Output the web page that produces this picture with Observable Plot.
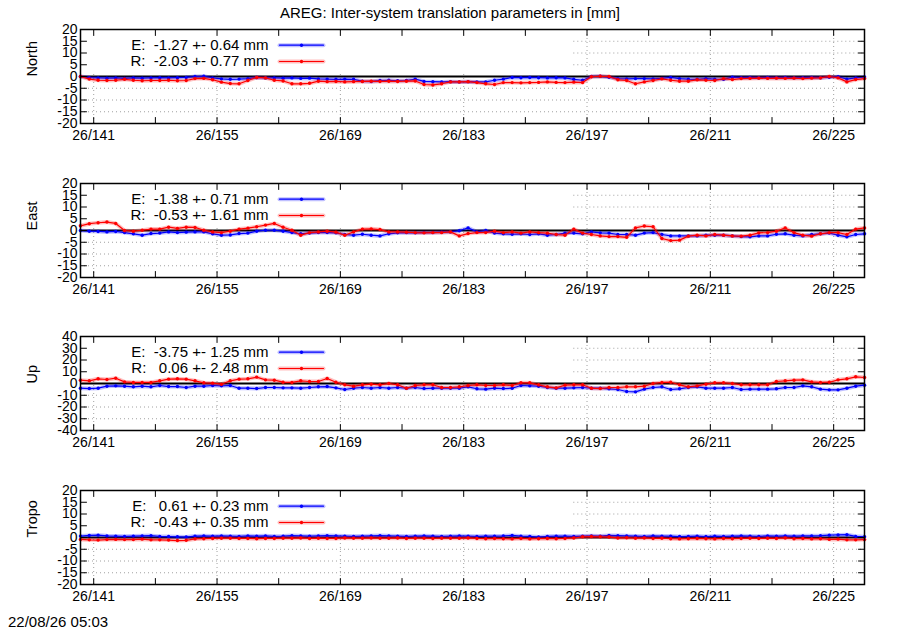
<!DOCTYPE html>
<html>
<head>
<meta charset="utf-8">
<script src="https://cdn.jsdelivr.net/npm/d3@7"></script>
<script src="https://cdn.jsdelivr.net/npm/@observablehq/plot@0.6"></script>
<style>
  body { margin: 0; background: #fff; }
  #chart { position: relative; width: 900px; height: 630px; background: #fff;
           font-family: "Liberation Sans", Arial, sans-serif; color: #000; }
  #chart .title { position: absolute; top: 5px; left: 0; width: 900px; text-align: center; font-size: 15px; line-height: 15px; }
  #chart .stamp { position: absolute; left: 8px; top: 614px; font-size: 15px; line-height: 15px; }
  #chart .panel { position: absolute; left: 0; }
</style>
</head>
<body>
<div id="chart"></div>
<script>
// daily solutions, day-of-year 139 .. 228 (noon epochs)
const days = d3.range(90).map(i => 139.5 + i);

const panelNames = ["North", "East", "Up", "Tropo"];
const yTicks20 = [-20, -15, -10, -5, 0, 5, 10, 15, 20];
const yTicks40 = [-40, -30, -20, -10, 0, 10, 20, 30, 40];
const xTicks = [141, 155, 169, 183, 197, 211, 225];
const xMinor = [148, 162, 176, 190, 204, 218];

// legend statistics: mean +- sigma [mm]
const statsE = ["-1.27 +- 0.64", "-1.38 +- 0.71", "-3.75 +- 1.25", " 0.61 +- 0.23"];
const statsR = ["-2.03 +- 0.77", "-0.53 +- 1.61", " 0.06 +- 2.48", "-0.43 +- 0.35"];

// E (blue) and R (red) series, one value per day
const northE = [0.0,-0.5,-0.6,-0.7,-0.6,-0.8,-0.6,-0.7,-0.6,-0.5,-0.6,-0.5,-0.4,0.0,0.1,-0.6,-1.0,-1.2,-1.1,-0.9,
  -0.4,-0.6,-0.6,-0.7,-0.6,-0.8,-0.7,-1.0,-1.1,-1.2,-1.1,-1.2,-2.0,-2.1,-1.7,-1.6,-1.8,-1.7,-1.1,-2.1,
  -2.2,-2.3,-2.2,-2.3,-2.2,-2.3,-2.3,-1.6,-1.1,-0.4,-0.5,-0.4,-0.5,-0.6,-0.5,-0.6,-1.2,-1.6,0.0,0.1,
  -0.3,-0.9,-1.0,-0.9,-0.9,-1.0,-0.8,-0.4,-0.9,-1.1,-1.2,-0.9,-1.1,-1.2,-0.3,-0.5,-0.4,-0.5,-0.4,-0.5,
  -0.4,-0.6,-0.5,-0.4,-0.5,-0.3,-0.1,-1.1,-0.6,-0.2];
const northR = [0.0,-1.1,-1.6,-1.7,-1.6,-1.2,-1.6,-1.8,-1.7,-1.7,-1.6,-1.8,-1.7,-0.9,-0.8,-1.4,-2.4,-3.0,-3.1,-1.7,
  -0.4,-0.6,-1.6,-1.9,-3.1,-3.1,-2.9,-2.0,-2.2,-2.1,-2.3,-2.2,-2.1,-2.0,-2.1,-2.0,-2.1,-2.0,-1.9,-3.4,
  -3.6,-3.1,-2.3,-2.3,-2.2,-2.6,-3.1,-3.4,-2.6,-2.6,-2.7,-2.6,-2.5,-2.3,-2.5,-2.6,-2.4,-2.6,-0.1,0.1,
  0.0,-1.4,-1.7,-3.1,-2.3,-1.7,-1.0,-1.6,-2.0,-2.0,-1.4,-1.6,-1.7,-0.9,-1.3,-0.9,-0.8,-0.7,-0.8,-0.7,
  -0.8,-0.7,-0.9,-0.7,-0.6,0.0,-0.6,-2.3,-1.3,-0.9];
const eastE = [0.0,-0.3,-0.4,-0.6,-0.4,-0.9,-1.4,-2.0,-1.3,-1.1,-0.6,-0.9,-0.7,-0.6,-0.6,-1.4,-2.0,-1.9,-1.3,-1.1,
  -0.3,0.1,0.1,-0.3,-0.9,-1.4,-1.1,-0.9,-0.9,-1.0,-1.7,-2.0,-1.6,-2.0,-2.3,-1.4,-1.0,-0.9,-1.0,-0.9,
  -0.9,-0.7,-0.6,-0.1,1.1,-0.6,0.0,-1.1,-1.4,-1.6,-1.4,-1.7,-1.4,-2.0,-1.7,-1.1,-1.1,-1.4,-0.6,-1.0,
  -1.1,-1.7,-1.7,-2.0,-1.1,-0.9,-1.7,-2.3,-2.3,-2.3,-2.3,-2.0,-2.0,-2.0,-2.3,-2.6,-2.7,-2.3,-2.3,-1.6,
  -1.4,-2.0,-2.3,-1.7,-1.4,-1.1,-2.0,-2.7,-1.7,-1.4];
const eastR = [2.0,2.9,3.3,3.6,3.0,0.0,-0.3,0.1,0.6,0.6,1.4,0.9,1.4,1.3,0.1,-0.6,-0.9,-0.3,0.6,1.0,
  1.6,2.3,3.0,1.4,0.1,-2.0,-0.9,-0.6,-0.3,-0.7,-2.0,-0.6,0.6,0.7,0.4,-0.6,-0.6,-0.7,-0.9,-1.0,
  -0.9,-0.9,-0.6,-2.3,-1.3,-0.9,-0.9,-0.3,-0.9,-0.6,-1.1,-0.6,-0.9,-1.1,-1.7,-2.0,0.6,-1.1,-1.7,-2.3,
  -2.6,-2.6,-2.9,1.1,1.9,1.6,-3.4,-4.3,-4.1,-2.4,-2.0,-2.3,-1.7,-2.0,-2.3,-2.4,-2.0,-1.0,-0.9,-0.3,
  1.1,-0.9,-2.0,-2.4,-1.4,-0.9,-0.9,-1.7,0.6,1.1];
const upE = [-4.0,-4.3,-4.0,-2.3,-2.0,-2.3,-2.8,-2.3,-2.8,-1.7,-2.6,-2.6,-3.4,-2.3,-2.3,-1.7,-2.0,-1.7,-4.0,-4.0,
  -4.3,-3.4,-3.4,-3.7,-3.7,-4.0,-3.4,-2.8,-2.6,-3.7,-5.1,-4.0,-3.4,-4.0,-3.4,-4.0,-3.4,-4.0,-3.4,-4.3,
  -4.0,-4.0,-4.0,-4.0,-2.8,-4.5,-4.8,-4.0,-4.3,-4.0,-1.7,-2.0,-2.3,-3.4,-4.0,-4.0,-3.7,-3.4,-4.0,-4.0,
  -4.5,-5.1,-6.8,-7.1,-4.8,-3.4,-2.8,-5.1,-4.5,-3.4,-2.8,-4.0,-4.0,-4.0,-3.4,-5.1,-4.8,-4.8,-4.8,-4.5,
  -3.4,-3.4,-2.0,-2.8,-4.8,-5.4,-5.4,-4.0,-2.3,-1.4];
const upR = [2.8,2.3,4.0,3.4,4.5,1.4,0.9,0.9,0.9,2.3,3.7,4.0,3.7,2.3,0.6,0.3,-0.6,2.3,3.7,4.0,
  5.4,3.1,2.8,1.1,0.9,2.3,1.7,1.7,4.3,1.1,-1.1,-2.3,-1.1,-0.6,-1.1,0.0,-1.1,-4.0,-1.7,-1.1,
  -1.1,-3.4,-3.4,-2.8,-1.7,-1.1,-1.7,-1.7,-1.1,-1.7,0.6,0.6,-1.1,-2.8,-3.7,-1.4,-1.1,-1.1,-4.0,-4.3,
  -3.4,-3.4,-2.8,-2.8,-2.3,0.0,0.9,1.1,-1.1,-2.8,-2.0,-0.6,0.6,0.6,0.0,-1.1,-1.1,-1.1,-1.1,1.7,
  2.3,2.8,3.1,1.4,0.9,1.1,3.1,4.0,5.7,5.1];
const tropoE = [0.6,0.9,1.0,0.7,0.6,0.5,0.6,0.7,0.8,0.5,0.4,0.3,0.2,0.6,0.7,0.6,0.7,0.6,0.5,0.7,
  0.6,0.7,0.5,0.6,0.8,0.7,0.6,0.7,0.8,0.7,0.6,0.5,0.6,0.7,0.8,0.7,0.6,0.5,0.6,0.7,
  0.6,0.5,0.6,0.7,0.6,0.5,0.6,0.6,0.7,0.9,0.6,0.5,0.2,0.5,0.6,0.6,0.5,0.6,0.7,0.6,
  0.9,0.8,0.7,0.6,0.5,0.7,0.6,0.6,0.4,0.5,0.6,0.4,0.6,0.5,0.6,0.7,0.6,0.5,0.7,0.6,
  0.7,0.6,0.7,0.7,0.8,1.0,1.1,1.2,0.5,0.3];
const tropoR = [-0.8,-1.0,-1.1,-0.9,-0.8,-0.9,-0.9,-0.7,-1.0,-1.0,-1.1,-1.3,-1.2,-0.6,-0.5,-0.4,-0.3,-0.3,-0.4,-0.4,
  -0.5,-0.4,-0.4,-0.3,-0.3,-0.2,-0.4,-0.3,-0.4,-0.4,-0.2,-0.3,-0.3,-0.2,-0.3,-0.3,-0.2,-0.4,-0.3,-0.3,
  -0.4,-0.3,-0.3,-0.3,-0.2,-0.4,-0.5,-0.4,-0.5,-0.6,-0.4,-0.6,-0.5,-0.4,-0.5,-0.4,-0.2,0.3,0.4,0.3,
  0.2,-0.2,-0.1,-0.3,-0.2,-0.4,-0.3,-0.5,-0.6,-0.5,-0.4,-0.5,-0.6,-0.4,-0.5,-0.4,-0.3,-0.4,-0.3,-0.4,
  -0.2,-0.5,-0.4,-0.6,-0.5,-0.8,-0.7,-1.0,-1.0,-0.9];

const seriesE = [northE, eastE, upE, tropoE];
const seriesR = [northR, eastR, upR, tropoR];

const blue = "#0000ff", red = "#ff0000";
const panelTops = [29, 183, 336, 490];
const mTop = 29, mBottom = 31, mLeft = 80, mRight = 36;
const xDomain = [139.5, 228.5];
const keyRight = 195.5; // the opaque key box hides the grid left of this day...
const keyBottom = 0.1;  // ...and above this fraction of the y range

const lineShape = {draw(c, l) { c.moveTo(0, 0); c.lineTo(0, -l); }};
const nb = s => s.replace(/ /g, "\u00a0");

const chart = d3.select("#chart");
chart.append("div").attr("class", "title").text("AREG: Inter-system translation parameters in [mm]");

panelNames.forEach((name, k) => {
  const yMax = name === "Up" ? 40 : 20;
  const yTicks = yMax === 40 ? yTicks40 : yTicks20;
  const gridVals = yTicks.filter(v => v !== 0 && Math.abs(v) < yMax);
  const dE = days.map((d, i) => ({day: d, v: seriesE[k][i]}));
  const dR = days.map((d, i) => ({day: d, v: seriesR[k][i]}));
  const yKey = yMax * keyBottom;
  const grid = {stroke: "#a0a0a0", strokeWidth: 1, strokeDasharray: "1,3"};

  const seriesMarks = (data, color) => [
    Plot.line(data, {x: "day", y: "v", stroke: color, strokeWidth: 4, strokeOpacity: 0.25}),
    Plot.line(data, {x: "day", y: "v", stroke: color, strokeWidth: 1.2}),
    Plot.dot(data, {x: "day", y: "v", fill: color, r: 1.7})
  ];

  const keyRow = (label, color, dy) => [
    Plot.text([nb(label)], {frameAnchor: "top-left", dx: 188, dy, textAnchor: "end", lineAnchor: "middle", fontSize: 15}),
    Plot.vector([0], {frameAnchor: "top-left", dx: 199, dy, rotate: 90, length: 44, anchor: "start", shape: lineShape, stroke: color, strokeWidth: 4, strokeOpacity: 0.25}),
    Plot.vector([0], {frameAnchor: "top-left", dx: 199, dy, rotate: 90, length: 44, anchor: "start", shape: lineShape, stroke: color, strokeWidth: 1.2}),
    Plot.dot([0], {frameAnchor: "top-left", dx: 221, dy, r: 1.7, fill: color})
  ];

  const inTick = (data, opts) => Plot.vector(data, {length: 6, anchor: "start", shape: lineShape, stroke: "black", strokeWidth: 1, ...opts});

  const plot = Plot.plot({
    width: 900,
    height: 154,
    marginTop: mTop, marginBottom: mBottom, marginLeft: mLeft, marginRight: mRight,
    style: "font-family: 'Liberation Sans', Arial, sans-serif; font-size: 14px; background: none; overflow: visible;",
    x: {domain: xDomain},
    y: {domain: [-yMax, yMax]},
    marks: [
      // dotted grid, interrupted by the opaque key box at top left
      Plot.ruleX(xTicks, {x: d => d, y1: -yMax, y2: d => d < keyRight ? yKey : yMax, ...grid}),
      Plot.ruleY(gridVals, {y: d => d, x1: d => d > yKey ? keyRight : xDomain[0], x2: xDomain[1], ...grid}),
      Plot.ruleY([0], {stroke: "black", strokeWidth: 2}),
      ...seriesMarks(dE, blue),
      ...seriesMarks(dR, red),
      Plot.frame({stroke: "black", strokeWidth: 1.5}),
      inTick(yTicks, {y: d => d, frameAnchor: "left", rotate: 90}),
      inTick(yTicks, {y: d => d, frameAnchor: "right", rotate: -90}),
      inTick([...xTicks, ...xMinor], {x: d => d, frameAnchor: "top", rotate: 180}),
      inTick([...xTicks, ...xMinor], {x: d => d, frameAnchor: "bottom", rotate: 0}),
      Plot.axisX(xTicks, {tickSize: 0, tickPadding: 7, tickFormat: d => "26/" + d, label: null, fontSize: 14}),
      Plot.axisY(yTicks, {tickSize: 0, tickPadding: 3, tickFormat: d => String(d), label: null, fontSize: 14}),
      Plot.text([name], {frameAnchor: "left", dx: -48, rotate: -90, fontSize: 14.5}),
      ...keyRow("E:  " + statsE[k] + " mm", blue, 15.7),
      ...keyRow("R:  " + statsR[k] + " mm", red, 32)
    ]
  });

  chart.append("div").attr("class", "panel").style("top", (panelTops[k] - mTop) + "px").append(() => plot);
});

chart.append("div").attr("class", "stamp").text("22/08/26 05:03");
</script>
</body>
</html>
